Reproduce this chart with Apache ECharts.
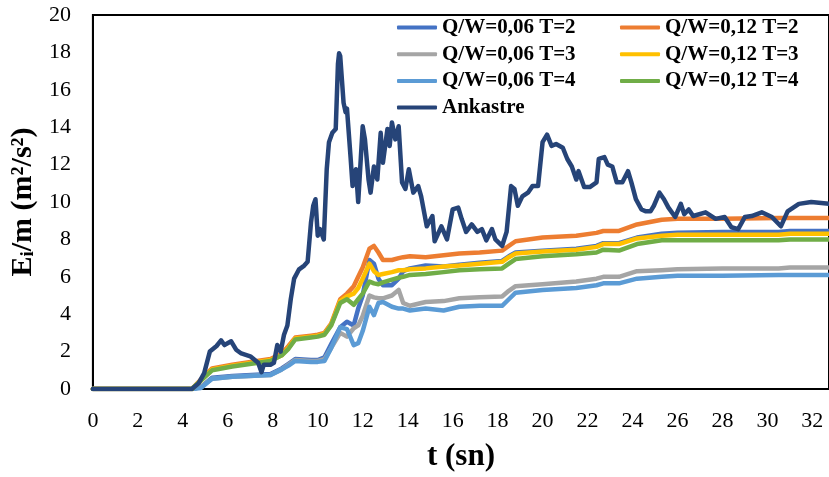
<!DOCTYPE html>
<html>
<head>
<meta charset="utf-8">
<script src="https://cdn.jsdelivr.net/npm/echarts@6/dist/echarts.min.js"></script>
<style>
  html, body { margin: 0; padding: 0; background: #fff; }
  #chart { width: 829px; height: 477px; }
</style>
</head>
<body>
<div id="chart"></div>
<script>
// time axis (s) shared by the Q/W series
const tQ = [0, 4.4, 4.8, 5.3, 6.2, 7.9, 8.4, 8.7, 9.0, 9.7, 10.0, 10.3, 10.6, 11.0, 11.3, 11.6, 11.8, 12.0, 12.3, 12.5,
  12.7, 12.9, 13.3, 13.6, 13.8, 14.1, 14.8, 15.6, 16.3, 17.2, 18.2, 18.5, 18.8, 20.0, 21.5, 22.4, 22.7, 23.4, 24.2,
  25.3, 26.0, 28.0, 30.5, 31.0, 32.74]

const qw006T2 = [0, 0, 0.1, 0.6, 0.7, 0.8, 1.1, 1.35, 1.6, 1.55, 1.55, 1.7, 2.4, 3.3, 3.6, 3.4, 4.3, 5.0, 6.9, 6.7,
  5.9, 5.55, 5.55, 5.9, 6.3, 6.45, 6.6, 6.55, 6.65, 6.75, 6.85, 7.1, 7.3, 7.4, 7.5, 7.65, 7.8, 7.8, 8.1,
  8.3, 8.35, 8.4, 8.4, 8.45, 8.45]
const qw006T3 = [0, 0, 0.1, 0.55, 0.65, 0.75, 1.05, 1.3, 1.55, 1.5, 1.5, 1.6, 2.2, 3.0, 2.8, 3.25, 3.4, 3.9, 5.0, 4.9,
  4.85, 4.85, 5.0, 5.3, 4.6, 4.45, 4.65, 4.7, 4.85, 4.9, 4.95, 5.25, 5.5, 5.6, 5.75, 5.9, 6.0, 6.0, 6.3,
  6.35, 6.4, 6.45, 6.45, 6.5, 6.5]
const qw006T4 = [0, 0, 0.05, 0.55, 0.65, 0.75, 1.05, 1.25, 1.5, 1.45, 1.45, 1.5, 2.2, 3.3, 3.2, 2.35, 2.45, 3.1, 4.4, 3.95,
  4.6, 4.65, 4.4, 4.3, 4.3, 4.2, 4.3, 4.2, 4.4, 4.45, 4.45, 4.8, 5.15, 5.3, 5.4, 5.55, 5.65, 5.65, 5.9,
  6.0, 6.05, 6.05, 6.1, 6.1, 6.1]
const qw012T2 = [0, 0, 0.5, 1.1, 1.3, 1.6, 1.9, 2.3, 2.75, 2.85, 2.9, 3.0, 3.5, 4.8, 5.1, 5.5, 6.0, 6.5, 7.5, 7.65,
  7.3, 6.9, 6.9, 7.0, 7.05, 7.1, 7.05, 7.15, 7.25, 7.3, 7.4, 7.65, 7.9, 8.1, 8.2, 8.35, 8.45, 8.45, 8.8,
  9.05, 9.1, 9.1, 9.15, 9.15, 9.15]
const qw012T3 = [0, 0, 0.45, 1.05, 1.25, 1.55, 1.8, 2.2, 2.7, 2.8, 2.85, 2.95, 3.45, 4.7, 4.95, 5.1, 5.4, 5.9, 6.7, 6.3,
  6.1, 6.15, 6.25, 6.35, 6.35, 6.4, 6.45, 6.55, 6.6, 6.7, 6.8, 7.05, 7.25, 7.35, 7.45, 7.6, 7.75, 7.75, 8.05,
  8.2, 8.25, 8.25, 8.25, 8.3, 8.3]
const qw012T4 = [0, 0, 0.45, 1.0, 1.2, 1.5, 1.8, 2.15, 2.65, 2.75, 2.8, 2.9, 3.4, 4.6, 4.8, 4.5, 4.8, 5.1, 5.75, 5.65,
  5.6, 5.7, 5.85, 5.95, 6.0, 6.1, 6.15, 6.25, 6.35, 6.4, 6.45, 6.7, 6.95, 7.1, 7.2, 7.3, 7.45, 7.4, 7.75,
  7.95, 7.95, 7.95, 7.95, 8.0, 8.0]

// Ankastre has its own, denser time axis
const tAnk = [0, 4.4, 4.7, 4.95, 5.2, 5.5, 5.7, 5.85, 6.15, 6.37, 6.6, 7.0, 7.35, 7.5, 7.6, 7.9, 8.05, 8.2, 8.35, 8.5,
  8.65, 8.8, 8.95, 9.17, 9.4, 9.55, 9.7, 9.8, 9.9, 10.0, 10.1, 10.27, 10.4, 10.5, 10.65, 10.8, 10.9, 10.95, 11.0,
  11.15, 11.24, 11.3, 11.46, 11.55, 11.7, 11.8, 12.0, 12.1, 12.26, 12.35, 12.5, 12.65, 12.8, 12.9, 13.1, 13.2,
  13.3, 13.45, 13.6, 13.75, 13.9, 14.05, 14.25, 14.47, 14.6, 14.85, 15.1, 15.2, 15.5, 15.75, 16.0, 16.25, 16.4,
  16.6, 16.85, 17.1, 17.3, 17.5, 17.75, 17.9, 18.2, 18.4, 18.6, 18.75, 18.9, 19.1, 19.35, 19.55, 19.8, 20.0,
  20.2, 20.4, 20.6, 20.9, 21.1, 21.3, 21.5, 21.6, 21.85, 22.1, 22.4, 22.5, 22.75, 22.9, 23.1, 23.3, 23.55,
  23.8, 23.95, 24.15, 24.4, 24.6, 24.8, 24.95, 25.2, 25.4, 25.6, 25.9, 26.15, 26.3, 26.5, 26.7, 27.25, 27.7,
  28.1, 28.4, 28.7, 29.0, 29.3, 29.75, 30.2, 30.6, 30.9, 31.4, 31.95, 32.74]
const ankastre = [0, 0, 0.3, 0.85, 2.0, 2.3, 2.6, 2.35, 2.55, 2.1, 1.9, 1.75, 1.4, 0.9, 1.3, 1.3, 1.4, 2.35, 2.0, 2.9,
  3.4, 4.8, 5.9, 6.4, 6.6, 6.8, 8.9, 9.8, 10.15, 8.2, 8.55, 8.0, 11.75, 13.2, 13.7, 13.9, 17.4, 17.95, 17.8,
  15.3, 14.8, 15.0, 12.4, 10.85, 11.75, 10.0, 14.05, 13.35, 11.2, 10.5, 11.9, 11.2, 13.7, 12.1, 13.9, 13.0,
  14.25, 13.35, 14.05, 11.05, 10.7, 11.75, 10.5, 10.85, 10.3, 8.7, 9.25, 7.9, 8.7, 8.0, 9.6, 9.7, 9.1,
  8.4, 8.8, 8.4, 8.55, 7.95, 8.55, 8.0, 7.65, 8.4, 10.85, 10.7, 9.8, 10.3, 10.5, 10.85, 10.85, 13.2,
  13.6, 13.0, 13.1, 12.9, 12.3, 11.9, 11.2, 11.65, 10.8, 10.8, 11.05, 12.3, 12.4, 12.0, 11.9, 11.05, 11.05,
  11.65, 11.05, 10.15, 9.6, 9.5, 9.5, 9.8, 10.5, 10.15, 9.7, 9.2, 9.9, 9.35, 9.6, 9.25, 9.45, 9.1,
  9.2, 8.65, 8.55, 9.2, 9.25, 9.45, 9.2, 8.7, 9.5, 9.9, 10.0, 9.9]

const seriesDefs = [
  { name: 'Q/W=0,06 T=2', t: tQ, v: qw006T2, color: '#4472C4' },
  { name: 'Q/W=0,06 T=3', t: tQ, v: qw006T3, color: '#A5A5A5' },
  { name: 'Q/W=0,06 T=4', t: tQ, v: qw006T4, color: '#5B9BD5' },
  { name: 'Q/W=0,12 T=2', t: tQ, v: qw012T2, color: '#ED7D31' },
  { name: 'Q/W=0,12 T=3', t: tQ, v: qw012T3, color: '#FFC000' },
  { name: 'Q/W=0,12 T=4', t: tQ, v: qw012T4, color: '#70AD47' },
  { name: 'Ankastre', t: tAnk, v: ankastre, color: '#264478' }
]

const font = "'Liberation Serif', 'Times New Roman', serif"

const legendBase = {
  orient: 'vertical',
  top: 17,
  padding: 0,
  icon: 'roundRect',
  itemWidth: 40,
  itemHeight: 4,
  itemGap: 5.7,
  textStyle: { fontFamily: font, fontSize: 21, fontWeight: 'bold', color: '#000', lineHeight: 21 }
}

const chart = echarts.init(document.getElementById('chart'))

const option = {
  animation: false,
  backgroundColor: '#fff',
  grid: {
    left: 91, right: -2, top: 15, bottom: 86,
    show: true, borderColor: '#000', borderWidth: 2
  },
  legend: [
    { ...legendBase, left: 397, data: ['Q/W=0,06 T=2', 'Q/W=0,06 T=3', 'Q/W=0,06 T=4', 'Ankastre'] },
    { ...legendBase, left: 620, data: ['Q/W=0,12 T=2', 'Q/W=0,12 T=3', 'Q/W=0,12 T=4'] }
  ],
  xAxis: {
    type: 'value',
    min: 0,
    max: 32.74,
    interval: 2,
    name: 't (sn)',
    nameLocation: 'middle',
    nameGap: 52,
    nameTextStyle: { fontFamily: font, fontSize: 31, fontWeight: 'bold', color: '#000' },
    axisLine: { lineStyle: { color: '#000', width: 2 } },
    axisTick: { show: false },
    splitLine: { show: false },
    axisLabel: { fontFamily: font, fontSize: 22, color: '#000', margin: 21, showMaxLabel: false }
  },
  yAxis: {
    type: 'value',
    min: 0,
    max: 20,
    interval: 2,
    name: '{a|E}{s|i}{a|/m (m²/s²)}',
    nameLocation: 'middle',
    nameGap: 50,
    nameTextStyle: {
      rich: {
        a: { fontFamily: font, fontSize: 30, fontWeight: 'bold', color: '#000' },
        s: { fontFamily: font, fontSize: 19, fontWeight: 'bold', color: '#000', verticalAlign: 'bottom', padding: [9, 0, 0, 0] }
      }
    },
    axisLine: { show: true, lineStyle: { color: '#000', width: 2 } },
    axisTick: { show: false },
    splitLine: { show: false },
    axisLabel: { fontFamily: font, fontSize: 22, color: '#000', margin: 22 }
  },
  series: seriesDefs.map(s => ({
    name: s.name,
    type: 'line',
    symbol: 'none',
    color: s.color,
    lineStyle: { width: 4.5, color: s.color, cap: 'round', join: 'round' },
    data: s.t.map((t, i) => [t, s.v[i]])
  }))
}

chart.setOption(option)
</script>
</body>
</html>
